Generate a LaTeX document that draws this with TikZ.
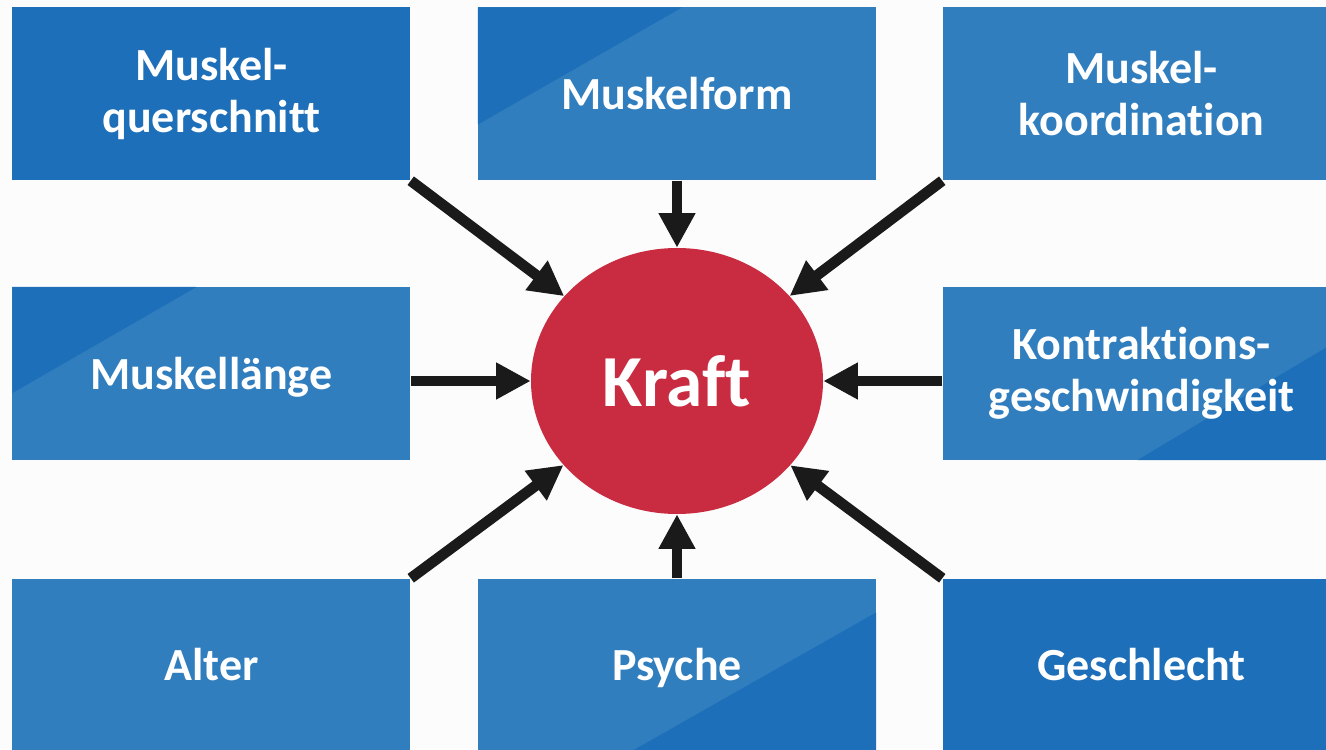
\documentclass[tikz,border=0pt]{standalone}
\usepackage{fontspec}
\setmainfont{Carlito}[Ligatures=NoCommon]
\usetikzlibrary{positioning}
\usetikzlibrary{shapes.geometric}
\usetikzlibrary{arrows.meta}

\definecolor{boxlight}{RGB}{49,126,191}
\definecolor{boxdark}{RGB}{28,111,184}
\definecolor{kraftred}{RGB}{201,44,64}
\definecolor{arrowblack}{RGB}{26,26,26}
\definecolor{slide}{RGB}{252,252,252}

\tikzset{
  factor/.style={rectangle, fill=boxlight, text=white, align=center,
    minimum width=298.5pt, minimum height=129.75pt, inner sep=0pt,
    font=\bfseries\fontsize{34.5}{39}\selectfont},
  darkbox/.style={factor, fill=boxdark},
  oneline/.style={text height=25pt, text depth=1.75pt},
  % darker corner triangles on some boxes
  cornernw/.style 2 args={path picture={
    \fill[boxdark] (path picture bounding box.north west) -- ++(#1,0)
      -- ([yshift=-#2]path picture bounding box.north west) -- cycle;}},
  cornerse/.style 2 args={path picture={
    \fill[boxdark] (path picture bounding box.south east) -- ++(-#1,0)
      -- ([yshift=#2]path picture bounding box.south east) -- cycle;}},
  target/.style={ellipse, fill=kraftred, text=white, inner sep=0pt,
    minimum width=219pt, minimum height=199.5pt,
    font=\bfseries\fontsize{55}{62}\selectfont},
  arrow/.style={draw=arrowblack, line width=8pt,
    -{Triangle[length=26pt,width=26pt]}},
}

\begin{document}
\begin{tikzpicture}
    \fill[slide] (-507.75pt,-276pt) rectangle (486.75pt,285.75pt);
    \clip (-507.75pt,-276pt) rectangle (486.75pt,285.75pt);

    \node[target] (kraft) {Kraft};
    \node[factor, oneline, above=50.25pt of kraft, cornernw={153pt}{87.75pt}] (form) {Muskelform};
    \node[darkbox, left=50.25pt of form] (querschnitt) {Muskel-\\querschnitt};
    \node[factor, right=49.5pt of form] (koord) {Muskel-\\koordination};
    \node[factor, oneline, below=79.5pt of querschnitt, cornernw={138pt}{79.5pt}] (laenge) {Muskellänge};
    \node[factor, below=79.5pt of koord, cornerse={152.25pt}{90.75pt}] (kontr) {Kontraktions-\\geschwindigkeit};
    \node[factor, oneline, below=88.5pt of laenge] (alter) {Alter};
    \node[factor, oneline, right=50.25pt of alter, cornerse={183.75pt}{104.25pt}] (psyche) {Psyche};
    \node[darkbox, oneline, right=49.5pt of psyche] (geschlecht) {Geschlecht};

    % Connect the factors to the centre
    \draw[arrow] (querschnitt.south east) -- (kraft);
    \draw[arrow] (form) -- (kraft);
    \draw[arrow] (koord.south west) -- (kraft);
    \draw[arrow] (laenge.east |- kraft) -- (kraft);
    \draw[arrow] (kontr.west |- kraft) -- (kraft);
    \draw[arrow] (alter.north east) -- (kraft);
    \draw[arrow] (psyche) -- (kraft);
    \draw[arrow] (geschlecht.north west) -- (kraft);
\end{tikzpicture}
\end{document}
